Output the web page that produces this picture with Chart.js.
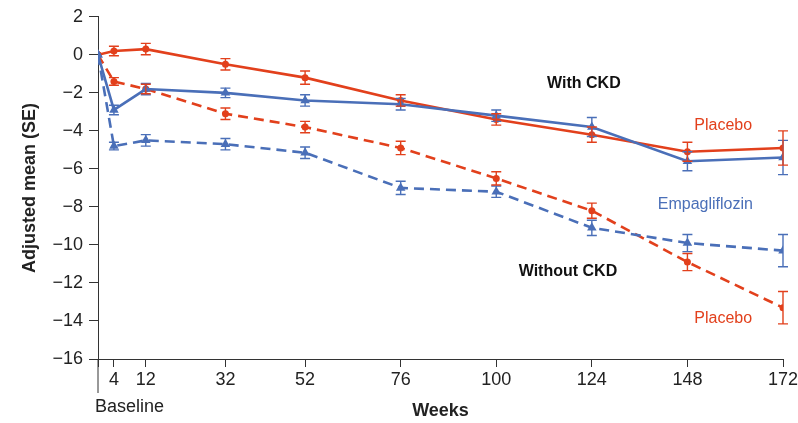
<!DOCTYPE html>
<html>
<head>
<meta charset="utf-8">
<script src="https://cdn.jsdelivr.net/npm/chart.js@4.4.1/dist/chart.umd.min.js"></script>
<style>
  html, body { margin: 0; padding: 0; background: #fff; }
  #wrap { width: 798px; height: 423px; }
</style>
</head>
<body>
<div id="wrap"><canvas id="chart"></canvas></div>
<script>
// weeks on the x axis
const weeks = [0, 4, 12, 32, 52, 76, 100, 124, 148, 172];

// adjusted means, with CKD
const ckdPlacebo = [0, 0.2, 0.3, -0.5, -1.2, -2.4, -3.4, -4.2, -5.1, -4.9];
const ckdPlaceboSE = [0, 0.25, 0.3, 0.3, 0.35, 0.3, 0.3, 0.4, 0.5, 0.9];
const ckdEmpa = [0, -2.9, -1.8, -2.0, -2.4, -2.6, -3.2, -3.8, -5.6, -5.4];
const ckdEmpaSE = [0, 0.25, 0.3, 0.25, 0.3, 0.3, 0.3, 0.5, 0.5, 0.9];

// adjusted means, without CKD
const noCkdPlacebo = [0, -1.4, -1.8, -3.1, -3.8, -4.9, -6.5, -8.2, -10.9, -13.3];
const noCkdPlaceboSE = [0, 0.2, 0.25, 0.3, 0.3, 0.35, 0.35, 0.4, 0.45, 0.85];
const noCkdEmpa = [0, -4.8, -4.5, -4.7, -5.15, -7.0, -7.2, -9.1, -9.9, -10.3];
const noCkdEmpaSE = [0, 0.2, 0.3, 0.3, 0.3, 0.35, 0.3, 0.4, 0.45, 0.85];

// annotation labels: [text, week, value, colour, bold]
const labels = [
    ['With CKD', 122, -1.5, '#111', true],
    ['Placebo', 157, -3.7, '#E2401C', false],
    ['Empagliflozin', 152.5, -7.9, '#4A6FB8', false],
    ['Without CKD', 118, -11.4, '#111', true],
    ['Placebo', 157, -13.85, '#E2401C', false]
];

const RED = '#E2401C';
const BLUE = '#4A6FB8';
const FONT = "'Liberation Sans', Arial, sans-serif";

function pts(values) {
    return weeks.map((w, i) => ({ x: w, y: values[i] }));
}

function series(values, se, color, dashed, shape) {
    return {
        data: pts(values),
        se: se,
        borderColor: color,
        backgroundColor: color,
        borderWidth: 2.6,
        borderDash: dashed ? [10, 6] : [],
        pointStyle: shape,
        pointRadius: shape === 'triangle' ? 5.5 : 3.5,
        pointBorderWidth: 0,
        tension: 0
    };
}

const errorBars = {
    id: 'errorBars',
    afterDatasetsDraw(chart) {
        const ctx = chart.ctx;
        const xs = chart.scales.x, ys = chart.scales.y;
        ctx.save();
        chart.data.datasets.forEach(ds => {
            ctx.strokeStyle = ds.borderColor;
            ctx.lineWidth = 1.4;
            ds.data.forEach((p, i) => {
                const e = ds.se[i];
                if (!e) return;
                const x = xs.getPixelForValue(p.x);
                const y1 = ys.getPixelForValue(p.y + e);
                const y2 = ys.getPixelForValue(p.y - e);
                ctx.beginPath();
                ctx.moveTo(x, y1); ctx.lineTo(x, y2);
                ctx.moveTo(x - 5, y1); ctx.lineTo(x + 5, y1);
                ctx.moveTo(x - 5, y2); ctx.lineTo(x + 5, y2);
                ctx.stroke();
            });
        });
        ctx.restore();
    }
};

const annotations = {
    id: 'annotations',
    afterDraw(chart) {
        const ctx = chart.ctx;
        const xs = chart.scales.x, ys = chart.scales.y;
        ctx.save();
        ctx.textAlign = 'center';
        ctx.textBaseline = 'middle';
        labels.forEach(([t, w, v, c, b]) => {
            ctx.fillStyle = c;
            ctx.font = (b ? 'bold ' : '') + '16px ' + FONT;
            ctx.fillText(t, xs.getPixelForValue(w), ys.getPixelForValue(v));
        });
        // long baseline tick and its label
        const x0 = xs.getPixelForValue(0);
        const yb = ys.getPixelForValue(-16);
        ctx.strokeStyle = '#333';
        ctx.lineWidth = 1;
        ctx.beginPath();
        ctx.moveTo(x0, yb);
        ctx.lineTo(x0, yb + 34);
        ctx.stroke();
        ctx.fillStyle = '#222';
        ctx.font = '18px ' + FONT;
        ctx.textAlign = 'left';
        ctx.fillText('Baseline', x0 - 3, yb + 48);
        ctx.restore();
    }
};

new Chart(document.getElementById('chart'), {
    type: 'line',
    data: {
        datasets: [
            series(noCkdEmpa, noCkdEmpaSE, BLUE, true, 'triangle'),
            series(ckdEmpa, ckdEmpaSE, BLUE, false, 'triangle'),
            series(noCkdPlacebo, noCkdPlaceboSE, RED, true, 'circle'),
            series(ckdPlacebo, ckdPlaceboSE, RED, false, 'circle')
        ]
    },
    options: {
        responsive: true,
        maintainAspectRatio: false,
        animation: false,
        layout: { padding: { top: 16, right: 0, left: 0, bottom: 0 } },
        plugins: {
            legend: { display: false },
            tooltip: { enabled: false }
        },
        scales: {
            x: {
                type: 'linear',
                min: 0,
                max: 172,
                afterBuildTicks: scale => {
                    scale.ticks = weeks.map(v => ({ value: v }));
                },
                afterFit: scale => {
                    scale.height = 64;
                    scale.paddingLeft = 0;
                    scale.paddingRight = 15;
                },
                grid: { drawOnChartArea: false, drawTicks: true, tickLength: 8, color: '#333' },
                border: { display: true, color: '#333', width: 1 },
                ticks: {
                    autoSkip: false,
                    maxRotation: 0,
                    padding: 2,
                    color: '#222',
                    font: { family: FONT, size: 18 },
                    callback: v => (v === 0 ? '' : String(v))
                },
                title: {
                    display: true,
                    text: 'Weeks',
                    color: '#222',
                    font: { family: FONT, size: 18, weight: 'bold' },
                    padding: { top: 0, bottom: 1 }
                }
            },
            y: {
                min: -16,
                max: 2,
                afterFit: scale => { scale.width = 98; },
                grid: { drawOnChartArea: false, drawTicks: true, tickLength: 9, color: '#333' },
                border: { display: true, color: '#333', width: 1 },
                ticks: {
                    stepSize: 2,
                    padding: 6,
                    color: '#222',
                    font: { family: FONT, size: 18 },
                    callback: v => (v < 0 ? '\u2212' + Math.abs(v) : String(v))
                },
                title: {
                    display: true,
                    text: 'Adjusted mean (SE)',
                    color: '#222',
                    font: { family: FONT, size: 18, weight: 'bold' },
                    padding: { top: 19, bottom: 0 }
                }
            }
        }
    },
    plugins: [errorBars, annotations]
});
</script>
</body>
</html>
